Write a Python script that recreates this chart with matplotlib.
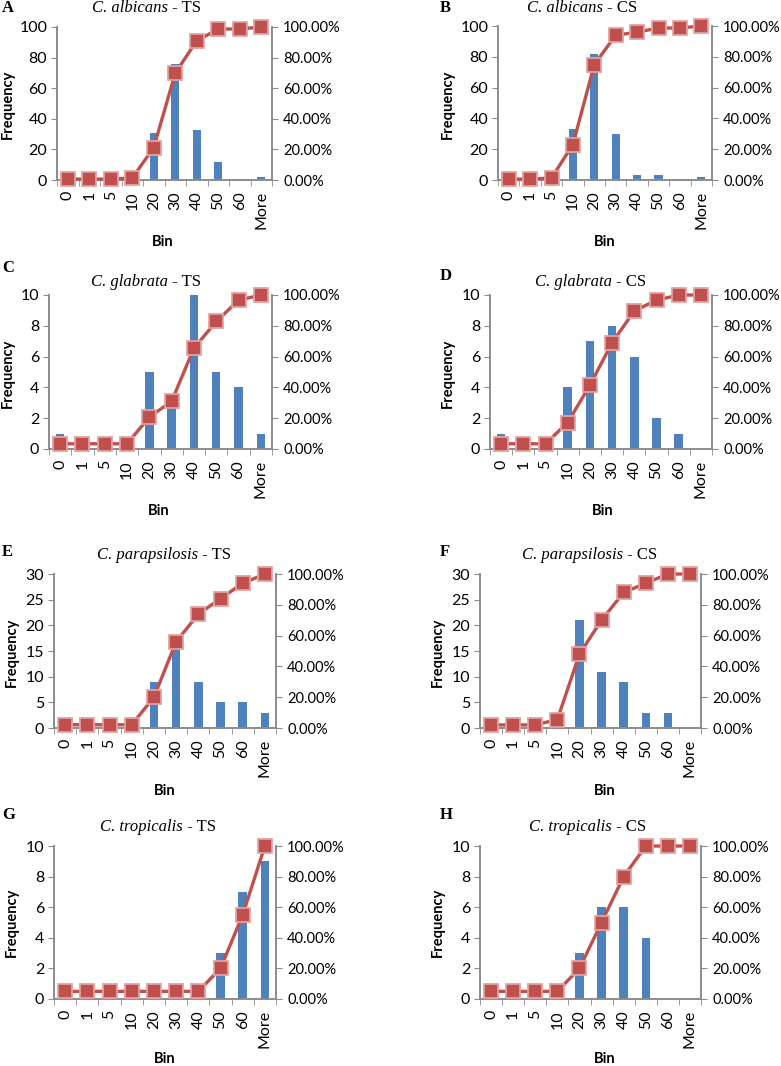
import matplotlib
matplotlib.use("Agg")
import matplotlib.pyplot as plt
from matplotlib.ticker import FixedLocator, FuncFormatter

bins = ["0", "1", "5", "10", "20", "30", "40", "50", "60", "More"]

# Frequencies (bars) and cumulative % (line)
freq_A = [1, 0, 0, 1, 31, 76, 33, 12, 0, 2]
cum_A = [0.6, 0.6, 0.6, 1.3, 21.2, 69.9, 91.0, 98.7, 98.7, 100.0]
freq_B = [1, 0, 1, 33, 82, 30, 3, 3, 0, 2]
cum_B = [0.6, 0.6, 1.3, 23.0, 75.0, 94.0, 96.0, 98.7, 98.7, 100.0]
freq_C = [1, 0, 0, 0, 5, 3, 10, 5, 4, 1]
cum_C = [3.4, 3.4, 3.4, 3.4, 20.7, 31.0, 65.5, 82.8, 96.6, 100.0]
freq_D = [1, 0, 0, 4, 7, 8, 6, 2, 1, 0]
cum_D = [3.4, 3.4, 3.4, 17.2, 41.4, 69.0, 89.7, 96.6, 100.0, 100.0]
freq_E = [1, 0, 0, 0, 9, 16, 9, 5, 5, 3]
cum_E = [2.1, 2.1, 2.1, 2.1, 20.0, 56.0, 74.0, 84.0, 94.0, 100.0]
freq_F = [1, 0, 0, 1, 21, 11, 9, 3, 3, 0]
cum_F = [2.0, 2.0, 2.0, 5.5, 48.0, 70.0, 88.0, 94.0, 100.0, 100.0]
freq_G = [1, 0, 0, 0, 0, 0, 0, 3, 7, 9]
cum_G = [5.0, 5.0, 5.0, 5.0, 5.0, 5.0, 5.0, 20.0, 55.0, 100.0]
freq_H = [1, 0, 0, 0, 3, 6, 6, 4, 0, 0]
cum_H = [5.0, 5.0, 5.0, 5.0, 20.0, 50.0, 80.0, 100.0, 100.0, 100.0]

letters = ["A", "B", "C", "D", "E", "F", "G", "H"]
species = ["C. albicans", "C. albicans", "C. glabrata", "C. glabrata",
           "C. parapsilosis", "C. parapsilosis", "C. tropicalis", "C. tropicalis"]
suffixes = [" - TS", " - CS", " - TS", " - CS", " - TS", " - CS", " - TS", " - CS"]
freqs = [freq_A, freq_B, freq_C, freq_D, freq_E, freq_F, freq_G, freq_H]
cums = [cum_A, cum_B, cum_C, cum_D, cum_E, cum_F, cum_G, cum_H]
ymaxes = [100, 100, 10, 10, 30, 30, 10, 10]
ysteps = [20, 20, 2, 2, 5, 5, 2, 2]

W, H = 781, 1066
# pixel layout: (x0, x1, ytop, ybot)
rects = [(57, 272, 27, 180), (498, 712, 26, 180),
         (49, 272, 295, 449), (490, 712, 295, 449),
         (54, 276, 574, 728), (480, 701, 574, 728),
         (54, 276, 846, 999), (480, 701, 846, 999)]
title_split = [(168, 8), (603, 8), (168, 282), (612, 282),
               (198, 555), (623, 555), (183, 827), (612, 827)]
letter_pos = [(2, 8), (440, 8), (2, 268), (440, 276),
              (2, 552), (440, 552), (2, 815), (440, 815)]
bin_pos = [(163, 242), (605, 242), (159, 511), (603, 511),
           (165, 791), (605, 791), (165, 1059), (605, 1059)]
freq_pos = [(8, 104), (448, 104), (8, 373), (448, 373),
            (12, 652), (438, 652), (12, 922), (438, 922)]

BAR = "#4F81BD"
LINE = "#C0504D"
GRAY = "#8C8C8C"
TFONT = "Lato"

fig = plt.figure(figsize=(W / 100, H / 100), dpi=100)

def fx(x):
    return x / W

def fy(y):
    return 1 - y / H

for i in range(8):
    x0, x1, yt, yb = rects[i]
    ax = fig.add_axes([fx(x0), fy(yb), fx(x1 - x0), (yb - yt) / H])
    xs = list(range(len(bins)))
    ax.bar(xs, freqs[i], width=0.38, color=BAR, zorder=2)
    ax.set_xlim(-0.5, len(bins) - 0.5)
    ax.set_ylim(0, ymaxes[i])
    ax.set_yticks([v for v in range(0, ymaxes[i] + 1, ysteps[i])])
    ax.xaxis.set_major_locator(FixedLocator(xs))
    ax.set_xticklabels(bins, rotation=90, fontsize=11.5, family=TFONT)
    ax.tick_params(axis="x", which="major", length=0, pad=8)
    ax.xaxis.set_minor_locator(FixedLocator([x - 0.5 for x in range(len(bins) + 1)]))
    ax.tick_params(axis="x", which="minor", length=4, color=GRAY, direction="out")
    ax.tick_params(axis="y", length=4, color=GRAY, direction="out", pad=3)
    for lab in ax.get_yticklabels():
        lab.set_fontsize(11.5)
        lab.set_family(TFONT)
    ax.spines["top"].set_visible(False)
    for s in ["left", "bottom", "right"]:
        ax.spines[s].set_color(GRAY)
        ax.spines[s].set_linewidth(1.2)

    ax2 = ax.twinx()
    ax2.set_ylim(0, 1)
    ax2.plot(xs, [c / 100 for c in cums[i]], color=LINE, lw=2.4,
             marker="s", markersize=9.5, markerfacecolor=LINE,
             markeredgecolor="#E3A3A1", markeredgewidth=1.3, clip_on=False, zorder=3)
    ax2.set_yticks([0, 0.2, 0.4, 0.6, 0.8, 1.0])
    ax2.yaxis.set_major_formatter(FuncFormatter(lambda v, p: f"{v * 100:.2f}%"))
    ax2.tick_params(axis="y", length=4, color=GRAY, direction="out", pad=4)
    for lab in ax2.get_yticklabels():
        lab.set_fontsize(10.5)
        lab.set_family(TFONT)
    ax2.spines["top"].set_visible(False)
    for s in ["left", "bottom", "right"]:
        ax2.spines[s].set_color(GRAY)
        ax2.spines[s].set_linewidth(1.2)

    sx, sy = title_split[i]
    fig.text(fx(sx), fy(sy), species[i], ha="right", va="center",
             family="Liberation Serif", style="italic", fontsize=12)
    fig.text(fx(sx), fy(sy), suffixes[i], ha="left", va="center",
             family="Liberation Serif", fontsize=12)
    lx, ly = letter_pos[i]
    fig.text(fx(lx), fy(ly), letters[i], ha="left", va="center",
             family="Liberation Serif", fontweight="bold", fontsize=12)
    bx, by = bin_pos[i]
    fig.text(fx(bx), fy(by), "Bin", ha="center", va="center",
             family=TFONT, fontweight="bold", fontsize=10.5)
    qx, qy = freq_pos[i]
    fig.text(fx(qx), fy(qy), "Frequency", ha="center", va="center", rotation=90,
             family=TFONT, fontweight="bold", fontsize=10.5)

fig.savefig("out.png", dpi=100, facecolor="white")
